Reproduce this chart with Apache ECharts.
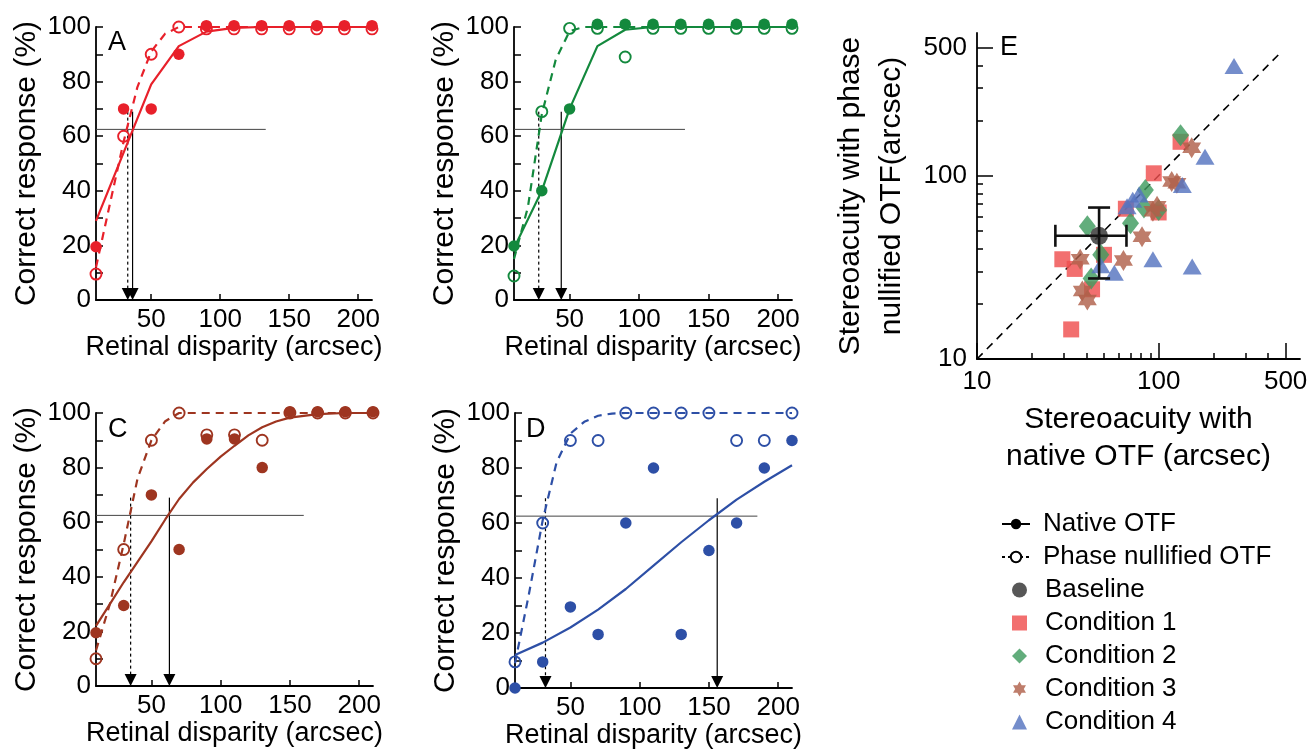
<!DOCTYPE html>
<html><head><meta charset="utf-8">
<script src="https://cdn.jsdelivr.net/npm/echarts@6/dist/echarts.min.js"></script>
<style>html,body{margin:0;padding:0;background:#fff}#c{width:1311px;height:753px}</style>
</head><body><div id="c"></div>
<script>
// ---------- data ----------
const disparity = [10,30,50,70,90,110,130,150,170,190,210];
const xTicks = [50,100,150,200];
const yTicks = [0,20,40,60,80,100];

const nativeA = [19.5,70,70,90,100.5,100.5,100.5,100.5,100.5,100.5,100.5];
const nullA   = [9.5,60,90,100,99.3,99.3,99.3,99.3,99.3,99.3,99.3];
const nativeB = [19.8,40,70,101,101,101,101,101,101,101,101];
const nullB   = [8.8,69,99.5,99.5,89,99.5,99.5,99.5,99.5,99.5,99.5];
const nativeC = [19.5,29.5,70,50,90.5,90.5,80,100.5,100.5,100.5,100.5];
const nullC   = [10,50,90,100,92,92,90,100,100,100,100];
const nativeD = [0,9.5,29.5,19.5,60,80,19.5,50,60,80,90];
const nullD   = [9.5,60,90,90,100,100,100,100,90,90,100];

const fitNativeA = [[10,29],[30,54],[50,79],[70,93],[90,98.3],[110,99.7],[130,100],[210,100]];
const fitNullA   = [[10,12],[30,58],[40,78],[50,91],[60,97.5],[70,100],[210,100]];
const fitNativeB = [[10,19],[30,40],[50,70],[70,93],[90,99],[110,100],[210,100]];
const fitNullB   = [[10,15],[20,34],[30,68],[40,88],[50,98.5],[60,100],[210,100]];
const fitNativeC = [[10,22],[20,30],[30,38],[40,45.5],[50,53],[60,61],[70,68.5],[80,74.5],[90,79.5],[100,84],[110,88],[120,91.8],[130,94.8],[140,96.9],[150,98.3],[170,99.6],[190,100],[210,100]];
const fitNullC   = [[10,13],[20,30],[30,52],[40,76],[50,90],[60,97],[70,100],[210,100]];
const fitNativeD = [[10,12],[30,16.5],[50,22],[70,28.5],[90,36],[110,44.5],[130,53],[150,61],[170,68.5],[190,75],[210,81]];
const fitNullD   = [[10,9],[20,34],[30,61],[40,82],[50,92.5],[60,96.8],[70,99],[80,99.8],[90,100],[210,100]];

const criterion = 62.5;          // threshold level (%)
const arrowTop = 69;
const criterionEnd = [133,133,160,185];
const thresholdNull   = [33,27.8,35,32];
const thresholdNative = [36.5,44,63,156];

// Panel E (arcsec)
const baseline = [[47,47]];
const baselineErr = [[47,47,27,66.5,27.5,67]];  // x, y, xlo, xhi, ylo, yhi
const cond1 = [[29.5,35],[34.5,31],[50,37],[43,24],[33,14.5],[94,103],[132,153],[66,66],[100,63]];
const cond2 = [[40.5,53],[48,37],[42.5,27.5],[70,55],[84.5,83.5],[83,67],[100,65],[132,166]];
const cond3 = [[37,35],[38,23.5],[40.5,21],[64,34.5],[81,46.5],[93,64],[98,68],[118,93],[126,91],[152,142]];
const cond4 = [[260,396],[180,127],[135,89],[93,35],[153,32],[57,29.5],[48,32.5],[67,68],[72,74],[78,79]];
const identity = [[10,10],[470,470]];
const eMajor = [10,100,500];
const eMinor = [20,30,40,50,60,70,80,90,200,300,400];

// ---------- styling ----------
const FONT = "'Liberation Sans', Arial, Helvetica, sans-serif";
function hexagram(){
  let s = 'path://';
  for (let k=0;k<12;k++){
    const a = (-90+30*k)*Math.PI/180, r = (k%2===0)?50:28.87;
    s += (k===0?'M':'L') + (50+r*Math.cos(a)).toFixed(2)+' '+(50+r*Math.sin(a)).toFixed(2)+' ';
  }
  return s+'Z';
}
const STAR = hexagram();

const panels = [
  {grid:{left:96,top:27,width:276,height:273}, color:'#e8202a', nat:nativeA, nul:nullA, fn:fitNativeA, fu:fitNullA, label:'A', lx:108, ly:44},
  {grid:{left:514,top:27,width:278,height:273}, color:'#13893d', nat:nativeB, nul:nullB, fn:fitNativeB, fu:fitNullB, label:'', lx:0, ly:0},
  {grid:{left:96,top:413,width:277,height:273}, color:'#9e3520', nat:nativeC, nul:nullC, fn:fitNativeC, fu:fitNullC, label:'C', lx:108, ly:431},
  {grid:{left:515,top:413,width:277,height:275}, color:'#2d4fa6', nat:nativeD, nul:nullD, fn:fitNativeD, fu:fitNullD, label:'D', lx:526, ly:431},
];

const grids=[], xAxes=[], yAxes=[], series=[], graphics=[];
const axisLineStyle = {color:'#000', width:1.8};

function arrowItem(params, api){
  const top = api.coord([api.value(0), api.value(1)]);
  const bot = api.coord([api.value(0), 0]);
  const dashed = api.value(2) === 1;
  const hw = 6, hh = 12;
  return {type:'group', children:[
    {type:'line', shape:{x1:top[0], y1:top[1], x2:bot[0], y2:bot[1]-hh+1},
      style:{stroke:'#000', lineWidth:1.2, lineDash: dashed ? [3,3] : null}},
    {type:'polygon', shape:{points:[[bot[0]-hw, bot[1]-hh],[bot[0]+hw, bot[1]-hh],[bot[0], bot[1]]]},
      style:{fill:'#000'}}
  ]};
}

panels.forEach((p,i)=>{
  grids.push(Object.assign({containLabel:false}, p.grid));
  xAxes.push({type:'value', gridIndex:i, min:10, max:210,
    axisLine:{lineStyle:axisLineStyle}, splitLine:{show:false},
    axisTick:{inside:true, length:6, lineStyle:{color:'#000',width:1.5}, customValues:xTicks},
    axisLabel:{customValues:xTicks, color:'#000', fontSize:26, fontFamily:FONT, margin:7},
    name:'Retinal disparity (arcsec)', nameLocation:'middle', nameGap:33,
    nameTextStyle:{color:'#000', fontSize:27, fontFamily:FONT}});
  yAxes.push({type:'value', gridIndex:i, min:0, max:100, interval:10,
    axisLine:{show:true, lineStyle:axisLineStyle}, splitLine:{show:false},
    axisTick:{inside:true, length:7, lineStyle:{color:'#000',width:1.5}},
    axisLabel:{customValues:yTicks, color:'#000', fontSize:26, fontFamily:FONT, margin:5},
    name:'Correct response (%)', nameLocation:'middle', nameGap:54,
    nameTextStyle:{color:'#000', fontSize:30, fontFamily:FONT}});

  // criterion line
  series.push({type:'line', xAxisIndex:i, yAxisIndex:i, silent:true, symbol:'none',
    data:[[10,criterion],[criterionEnd[i],criterion]],
    lineStyle:{color:'#444', width:1}, z:2});
  // threshold arrows
  series.push({type:'custom', xAxisIndex:i, yAxisIndex:i, silent:true, z:2, clip:false,
    data:[[thresholdNull[i], arrowTop, 1],[thresholdNative[i], arrowTop, 0]],
    encode:{x:0, y:1}, renderItem:arrowItem});
  // fitted curves
  series.push({type:'line', xAxisIndex:i, yAxisIndex:i, silent:true, symbol:'none', data:p.fn,
    lineStyle:{color:p.color, width:2.2}, z:3});
  series.push({type:'line', xAxisIndex:i, yAxisIndex:i, silent:true, symbol:'none', data:p.fu,
    lineStyle:{color:p.color, width:2.2, type:[8,6]}, z:3});
  // data points
  series.push({type:'scatter', xAxisIndex:i, yAxisIndex:i, clip:false, symbol:'circle', symbolSize:11,
    data:disparity.map((x,k)=>[x,p.nul[k]]),
    itemStyle:{color:'rgba(0,0,0,0)', borderColor:p.color, borderWidth:1.9, opacity:1}, z:4});
  series.push({type:'scatter', xAxisIndex:i, yAxisIndex:i, clip:false, symbol:'circle', symbolSize:11.5,
    data:disparity.map((x,k)=>[x,p.nat[k]]),
    itemStyle:{color:p.color, opacity:1}, z:5});
  if (p.label) graphics.push({type:'text', left:p.lx, top:p.ly-15, style:{text:p.label, fontSize:27, fontFamily:FONT, fill:'#000'}});
});

// ---------- panel E ----------
const E = 4;
grids.push({left:977, top:33, width:323, height:326, containLabel:false});
const logCommon = {type:'log', logBase:10, min:10, max:600, gridIndex:E, splitLine:{show:false}};
xAxes.push(Object.assign({}, logCommon, {position:'bottom',
  axisLine:{lineStyle:axisLineStyle},
  axisTick:{inside:true, length:16, lineStyle:{color:'#000',width:1.5}, customValues:eMajor},
  axisLabel:{customValues:eMajor, color:'#000', fontSize:26, fontFamily:FONT, margin:10},
  name:'Stereoacuity with\nnative OTF (arcsec)', nameLocation:'middle', nameGap:42,
  nameTextStyle:{color:'#000', fontSize:30, fontFamily:FONT, lineHeight:37}}));
xAxes.push(Object.assign({}, logCommon, {position:'bottom',
  axisLine:{show:false}, axisLabel:{show:false},
  axisTick:{inside:true, length:6, lineStyle:{color:'#000',width:1.5}, customValues:eMinor}}));
yAxes.push(Object.assign({}, logCommon, {position:'left',
  axisLine:{show:true, lineStyle:axisLineStyle},
  axisTick:{inside:true, length:16, lineStyle:{color:'#000',width:1.5}, customValues:eMajor},
  axisLabel:{customValues:eMajor, color:'#000', fontSize:26, fontFamily:FONT, margin:10},
  name:'Stereoacuity with phase\nnullified OTF(arcsec)', nameLocation:'middle', nameGap:65,
  nameTextStyle:{color:'#000', fontSize:30, fontFamily:FONT, lineHeight:41}}));
yAxes.push(Object.assign({}, logCommon, {position:'left',
  axisLine:{show:false}, axisLabel:{show:false},
  axisTick:{inside:true, length:6, lineStyle:{color:'#000',width:1.5}, customValues:eMinor}}));

series.push({type:'line', xAxisIndex:E, yAxisIndex:E, silent:true, symbol:'none', data:identity,
  lineStyle:{color:'#000', width:1.6, type:[8,6]}, z:2});
const condStyle = (c)=>({color:c, opacity:0.82});
series.push({name:'Condition 1', type:'scatter', xAxisIndex:E, yAxisIndex:E, symbol:'rect', symbolSize:16, data:cond1, itemStyle:condStyle('#ef4f4f'), z:3});
series.push({name:'Condition 2', type:'scatter', xAxisIndex:E, yAxisIndex:E, symbol:'diamond', symbolSize:[17,22], data:cond2, itemStyle:condStyle('#3f9b5f'), z:3});
series.push({name:'Condition 3', type:'scatter', xAxisIndex:E, yAxisIndex:E, symbol:STAR, symbolSize:[19,21], data:cond3, itemStyle:condStyle('#b0604a'), z:3});
series.push({name:'Condition 4', type:'scatter', xAxisIndex:E, yAxisIndex:E, symbol:'triangle', symbolSize:[19,16], data:cond4, itemStyle:condStyle('#5574c0'), z:3});
series.push({name:'Baseline', type:'scatter', xAxisIndex:E, yAxisIndex:E, symbol:'circle', symbolSize:18, data:baseline, itemStyle:{color:'#3a3a3a', opacity:0.85}, z:4});
series.push({type:'custom', xAxisIndex:E, yAxisIndex:E, silent:true, z:5, data:baselineErr,
  encode:{x:[0,2,3], y:[1,4,5]},
  renderItem:(params, api)=>{
    const l = api.coord([api.value(2), api.value(1)]);
    const r = api.coord([api.value(3), api.value(1)]);
    const b = api.coord([api.value(0), api.value(4)]);
    const t = api.coord([api.value(0), api.value(5)]);
    const h = 11, st = {stroke:'#111', lineWidth:2.6};
    return {type:'group', children:[
      {type:'line', shape:{x1:l[0],y1:l[1],x2:r[0],y2:r[1]}, style:st},
      {type:'line', shape:{x1:b[0],y1:b[1],x2:t[0],y2:t[1]}, style:st},
      {type:'line', shape:{x1:l[0],y1:l[1]-h,x2:l[0],y2:l[1]+h}, style:st},
      {type:'line', shape:{x1:r[0],y1:r[1]-h,x2:r[0],y2:r[1]+h}, style:st},
      {type:'line', shape:{x1:b[0]-h,y1:b[1],x2:b[0]+h,y2:b[1]}, style:st},
      {type:'line', shape:{x1:t[0]-h,y1:t[1],x2:t[0]+h,y2:t[1]}, style:st}
    ]};
  }});
// legend-only series
series.push({name:'Native OTF', type:'line', xAxisIndex:E, yAxisIndex:E, data:[], symbol:'circle',
  itemStyle:{color:'#000'}, lineStyle:{color:'#000', width:1.6}});
series.push({name:'Phase nullified OTF', type:'line', xAxisIndex:E, yAxisIndex:E, data:[], symbol:'circle',
  itemStyle:{color:'#fff', borderColor:'#000', borderWidth:1.5}, lineStyle:{color:'#000', width:1.6, type:[3,3]}});

graphics.push({type:'text', left:1000, top:34, style:{text:'E', fontSize:27, fontFamily:FONT, fill:'#000'}});

const legendText = {color:'#000', fontSize:26, fontFamily:FONT, lineHeight:30, padding:[0,0,0,8]};
const option = {
  animation:false,
  backgroundColor:'#fff',
  grid:grids, xAxis:xAxes, yAxis:yAxes, series:series, graphic:graphics,
  legend:[
    {data:['Native OTF','Phase nullified OTF'], orient:'vertical', left:996, top:504,
     itemWidth:28, itemHeight:13, itemGap:3, textStyle:legendText, selectedMode:false},
    {data:['Baseline','Condition 1','Condition 2','Condition 3','Condition 4'], orient:'vertical', left:1007, top:570,
     itemWidth:15, itemHeight:15, itemGap:3, textStyle:Object.assign({},legendText,{padding:[0,0,0,13]}), selectedMode:false}
  ]
};
const chart = echarts.init(document.getElementById('c'), null, {renderer:'canvas'});
chart.setOption(option);
</script></body></html>
